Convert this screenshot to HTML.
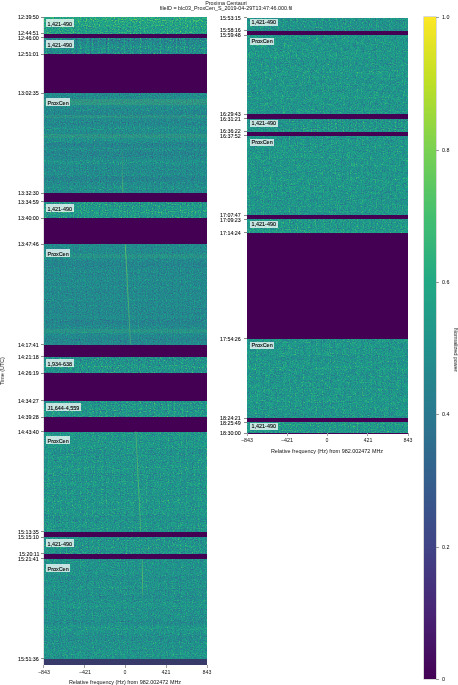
<!DOCTYPE html>
<html><head><meta charset="utf-8"><style>
html,body{margin:0;padding:0;background:#fff;width:458px;height:685px;overflow:hidden}
body{position:relative;font-family:"Liberation Sans",sans-serif;color:#000;-webkit-font-smoothing:antialiased}
div,svg{position:absolute}
div{will-change:transform}
.lab{font-size:5.45px;padding:0 1.5px 0 1.5px;-webkit-text-stroke:0.1px #000;background:rgba(255,255,255,0.74);white-space:nowrap}
.tk{width:3.1px;height:0.75px;background:#8a8a8a}
.yl{font-size:5.35px;line-height:0;white-space:nowrap;color:#000;-webkit-text-stroke:0.06px #000}
.xl{font-size:5.35px;white-space:nowrap;transform:translateX(-50%);color:#111}
.xt{width:0.7px;height:3px;background:#a0a0a0}
.t{font-size:5.4px;white-space:nowrap;transform:translateX(-50%);color:#111}
</style></head><body>
<svg width="0" height="0" style="position:absolute"><defs>
<filter id="f1" x="0" y="0" width="100%" height="100%" color-interpolation-filters="sRGB">
<feTurbulence type="fractalNoise" baseFrequency="0.85" numOctaves="2" seed="7" result="n0"/>
<feColorMatrix in="n0" values="1 0 0 0 0 0 0 0 0 0 0 0 0 0 0 0 0 0 0 1" result="n"/>
<feTurbulence type="fractalNoise" baseFrequency="0 0.12" numOctaves="2" seed="57" result="s0"/>
<feTurbulence type="fractalNoise" baseFrequency="0.5 0" numOctaves="1" seed="97" result="v0"/>
<feColorMatrix in="s0" values="0.1212 0 0 0 0 0 0 0 0 0 0 0 0 0 0 0 0 0 0 1" result="s"/>
<feColorMatrix in="v0" values="0.1412 0 0 0 0 0 0 0 0 0 0 0 0 0 0 0 0 0 0 1" result="v"/>
<feComposite in="n" in2="s" operator="arithmetic" k1="0" k2="0.6372" k3="1" k4="0.2008" result="ns"/>
<feComposite in="ns" in2="v" operator="arithmetic" k1="0" k2="1" k3="1" k4="-0.0706" result="nv"/>
<feColorMatrix in="nv" values="1 0 0 0 0 1 0 0 0 0 1 0 0 0 0 0 0 0 0 1"/>
<feComponentTransfer><feFuncR type="table" tableValues="0.267 0.277 0.282 0.283 0.279 0.271 0.259 0.245 0.23 0.214 0.199 0.186 0.173 0.161 0.149 0.138 0.128 0.121 0.121 0.132 0.158 0.197 0.246 0.304 0.369 0.44 0.516 0.596 0.678 0.762 0.846 0.926 0.993"/><feFuncG type="table" tableValues="0.005 0.05 0.095 0.136 0.175 0.214 0.252 0.288 0.322 0.356 0.388 0.419 0.449 0.479 0.508 0.537 0.567 0.596 0.626 0.655 0.684 0.712 0.739 0.765 0.789 0.811 0.831 0.849 0.864 0.876 0.887 0.897 0.906"/><feFuncB type="table" tableValues="0.329 0.376 0.417 0.453 0.483 0.507 0.525 0.537 0.546 0.551 0.555 0.557 0.558 0.558 0.557 0.555 0.551 0.544 0.533 0.52 0.502 0.479 0.452 0.42 0.383 0.341 0.294 0.243 0.19 0.137 0.1 0.104 0.144"/></feComponentTransfer>
</filter>
<filter id="f2" x="0" y="0" width="100%" height="100%" color-interpolation-filters="sRGB">
<feTurbulence type="fractalNoise" baseFrequency="0.85" numOctaves="2" seed="10" result="n0"/>
<feColorMatrix in="n0" values="1 0 0 0 0 0 0 0 0 0 0 0 0 0 0 0 0 0 0 1" result="n"/>
<feTurbulence type="fractalNoise" baseFrequency="0 0.12" numOctaves="2" seed="60" result="s0"/>
<feTurbulence type="fractalNoise" baseFrequency="0.5 0" numOctaves="1" seed="100" result="v0"/>
<feColorMatrix in="s0" values="0.1212 0 0 0 0 0 0 0 0 0 0 0 0 0 0 0 0 0 0 1" result="s"/>
<feColorMatrix in="v0" values="0.3529 0 0 0 0 0 0 0 0 0 0 0 0 0 0 0 0 0 0 1" result="v"/>
<feComposite in="n" in2="s" operator="arithmetic" k1="0" k2="0.5947" k3="1" k4="0.1370" result="ns"/>
<feComposite in="ns" in2="v" operator="arithmetic" k1="0" k2="1" k3="1" k4="-0.1765" result="nv"/>
<feColorMatrix in="nv" values="1 0 0 0 0 1 0 0 0 0 1 0 0 0 0 0 0 0 0 1"/>
<feComponentTransfer><feFuncR type="table" tableValues="0.267 0.277 0.282 0.283 0.279 0.271 0.259 0.245 0.23 0.214 0.199 0.186 0.173 0.161 0.149 0.138 0.128 0.121 0.121 0.132 0.158 0.197 0.246 0.304 0.369 0.44 0.516 0.596 0.678 0.762 0.846 0.926 0.993"/><feFuncG type="table" tableValues="0.005 0.05 0.095 0.136 0.175 0.214 0.252 0.288 0.322 0.356 0.388 0.419 0.449 0.479 0.508 0.537 0.567 0.596 0.626 0.655 0.684 0.712 0.739 0.765 0.789 0.811 0.831 0.849 0.864 0.876 0.887 0.897 0.906"/><feFuncB type="table" tableValues="0.329 0.376 0.417 0.453 0.483 0.507 0.525 0.537 0.546 0.551 0.555 0.557 0.558 0.558 0.557 0.555 0.551 0.544 0.533 0.52 0.502 0.479 0.452 0.42 0.383 0.341 0.294 0.243 0.19 0.137 0.1 0.104 0.144"/></feComponentTransfer>
</filter>
<filter id="f3" x="0" y="0" width="100%" height="100%" color-interpolation-filters="sRGB">
<feTurbulence type="fractalNoise" baseFrequency="0.85" numOctaves="2" seed="13" result="n0"/>
<feColorMatrix in="n0" values="1 0 0 0 0 0 0 0 0 0 0 0 0 0 0 0 0 0 0 1" result="n"/>
<feTurbulence type="fractalNoise" baseFrequency="0 0.12" numOctaves="2" seed="63" result="s0"/>
<feTurbulence type="fractalNoise" baseFrequency="0.5 0" numOctaves="1" seed="103" result="v0"/>
<feColorMatrix in="s0" values="0.1616 0 0 0 0 0 0 0 0 0 0 0 0 0 0 0 0 0 0 1" result="s"/>
<feColorMatrix in="v0" values="0.1176 0 0 0 0 0 0 0 0 0 0 0 0 0 0 0 0 0 0 1" result="v"/>
<feComposite in="n" in2="s" operator="arithmetic" k1="0" k2="0.4673" k3="1" k4="0.1605" result="ns"/>
<feComposite in="ns" in2="v" operator="arithmetic" k1="0" k2="1" k3="1" k4="-0.0588" result="nv"/>
<feColorMatrix in="nv" values="1 0 0 0 0 1 0 0 0 0 1 0 0 0 0 0 0 0 0 1"/>
<feComponentTransfer><feFuncR type="table" tableValues="0.267 0.277 0.282 0.283 0.279 0.271 0.259 0.245 0.23 0.214 0.199 0.186 0.173 0.161 0.149 0.138 0.128 0.121 0.121 0.132 0.158 0.197 0.246 0.304 0.369 0.44 0.516 0.596 0.678 0.762 0.846 0.926 0.993"/><feFuncG type="table" tableValues="0.005 0.05 0.095 0.136 0.175 0.214 0.252 0.288 0.322 0.356 0.388 0.419 0.449 0.479 0.508 0.537 0.567 0.596 0.626 0.655 0.684 0.712 0.739 0.765 0.789 0.811 0.831 0.849 0.864 0.876 0.887 0.897 0.906"/><feFuncB type="table" tableValues="0.329 0.376 0.417 0.453 0.483 0.507 0.525 0.537 0.546 0.551 0.555 0.557 0.558 0.558 0.557 0.555 0.551 0.544 0.533 0.52 0.502 0.479 0.452 0.42 0.383 0.341 0.294 0.243 0.19 0.137 0.1 0.104 0.144"/></feComponentTransfer>
</filter>
<filter id="f4" x="0" y="0" width="100%" height="100%" color-interpolation-filters="sRGB">
<feTurbulence type="fractalNoise" baseFrequency="0.85" numOctaves="2" seed="16" result="n0"/>
<feColorMatrix in="n0" values="1 0 0 0 0 0 0 0 0 0 0 0 0 0 0 0 0 0 0 1" result="n"/>
<feTurbulence type="fractalNoise" baseFrequency="0 0.12" numOctaves="2" seed="66" result="s0"/>
<feTurbulence type="fractalNoise" baseFrequency="0.5 0" numOctaves="1" seed="106" result="v0"/>
<feColorMatrix in="s0" values="0.1212 0 0 0 0 0 0 0 0 0 0 0 0 0 0 0 0 0 0 1" result="s"/>
<feColorMatrix in="v0" values="0.1765 0 0 0 0 0 0 0 0 0 0 0 0 0 0 0 0 0 0 1" result="v"/>
<feComposite in="n" in2="s" operator="arithmetic" k1="0" k2="0.5947" k3="1" k4="0.1820" result="ns"/>
<feComposite in="ns" in2="v" operator="arithmetic" k1="0" k2="1" k3="1" k4="-0.0882" result="nv"/>
<feColorMatrix in="nv" values="1 0 0 0 0 1 0 0 0 0 1 0 0 0 0 0 0 0 0 1"/>
<feComponentTransfer><feFuncR type="table" tableValues="0.267 0.277 0.282 0.283 0.279 0.271 0.259 0.245 0.23 0.214 0.199 0.186 0.173 0.161 0.149 0.138 0.128 0.121 0.121 0.132 0.158 0.197 0.246 0.304 0.369 0.44 0.516 0.596 0.678 0.762 0.846 0.926 0.993"/><feFuncG type="table" tableValues="0.005 0.05 0.095 0.136 0.175 0.214 0.252 0.288 0.322 0.356 0.388 0.419 0.449 0.479 0.508 0.537 0.567 0.596 0.626 0.655 0.684 0.712 0.739 0.765 0.789 0.811 0.831 0.849 0.864 0.876 0.887 0.897 0.906"/><feFuncB type="table" tableValues="0.329 0.376 0.417 0.453 0.483 0.507 0.525 0.537 0.546 0.551 0.555 0.557 0.558 0.558 0.557 0.555 0.551 0.544 0.533 0.52 0.502 0.479 0.452 0.42 0.383 0.341 0.294 0.243 0.19 0.137 0.1 0.104 0.144"/></feComponentTransfer>
</filter>
<filter id="f5" x="0" y="0" width="100%" height="100%" color-interpolation-filters="sRGB">
<feTurbulence type="fractalNoise" baseFrequency="0.85" numOctaves="2" seed="19" result="n0"/>
<feColorMatrix in="n0" values="1 0 0 0 0 0 0 0 0 0 0 0 0 0 0 0 0 0 0 1" result="n"/>
<feTurbulence type="fractalNoise" baseFrequency="0 0.12" numOctaves="2" seed="69" result="s0"/>
<feTurbulence type="fractalNoise" baseFrequency="0.5 0" numOctaves="1" seed="109" result="v0"/>
<feColorMatrix in="s0" values="0.1212 0 0 0 0 0 0 0 0 0 0 0 0 0 0 0 0 0 0 1" result="s"/>
<feColorMatrix in="v0" values="0.1176 0 0 0 0 0 0 0 0 0 0 0 0 0 0 0 0 0 0 1" result="v"/>
<feComposite in="n" in2="s" operator="arithmetic" k1="0" k2="0.4248" k3="1" k4="0.1970" result="ns"/>
<feComposite in="ns" in2="v" operator="arithmetic" k1="0" k2="1" k3="1" k4="-0.0588" result="nv"/>
<feColorMatrix in="nv" values="1 0 0 0 0 1 0 0 0 0 1 0 0 0 0 0 0 0 0 1"/>
<feComponentTransfer><feFuncR type="table" tableValues="0.267 0.277 0.282 0.283 0.279 0.271 0.259 0.245 0.23 0.214 0.199 0.186 0.173 0.161 0.149 0.138 0.128 0.121 0.121 0.132 0.158 0.197 0.246 0.304 0.369 0.44 0.516 0.596 0.678 0.762 0.846 0.926 0.993"/><feFuncG type="table" tableValues="0.005 0.05 0.095 0.136 0.175 0.214 0.252 0.288 0.322 0.356 0.388 0.419 0.449 0.479 0.508 0.537 0.567 0.596 0.626 0.655 0.684 0.712 0.739 0.765 0.789 0.811 0.831 0.849 0.864 0.876 0.887 0.897 0.906"/><feFuncB type="table" tableValues="0.329 0.376 0.417 0.453 0.483 0.507 0.525 0.537 0.546 0.551 0.555 0.557 0.558 0.558 0.557 0.555 0.551 0.544 0.533 0.52 0.502 0.479 0.452 0.42 0.383 0.341 0.294 0.243 0.19 0.137 0.1 0.104 0.144"/></feComponentTransfer>
</filter>
<filter id="f6" x="0" y="0" width="100%" height="100%" color-interpolation-filters="sRGB">
<feTurbulence type="fractalNoise" baseFrequency="0.85" numOctaves="2" seed="22" result="n0"/>
<feColorMatrix in="n0" values="1 0 0 0 0 0 0 0 0 0 0 0 0 0 0 0 0 0 0 1" result="n"/>
<feTurbulence type="fractalNoise" baseFrequency="0 0.12" numOctaves="2" seed="72" result="s0"/>
<feTurbulence type="fractalNoise" baseFrequency="0.5 0" numOctaves="1" seed="112" result="v0"/>
<feColorMatrix in="s0" values="0.1212 0 0 0 0 0 0 0 0 0 0 0 0 0 0 0 0 0 0 1" result="s"/>
<feColorMatrix in="v0" values="0.1765 0 0 0 0 0 0 0 0 0 0 0 0 0 0 0 0 0 0 1" result="v"/>
<feComposite in="n" in2="s" operator="arithmetic" k1="0" k2="0.5947" k3="1" k4="0.1620" result="ns"/>
<feComposite in="ns" in2="v" operator="arithmetic" k1="0" k2="1" k3="1" k4="-0.0882" result="nv"/>
<feColorMatrix in="nv" values="1 0 0 0 0 1 0 0 0 0 1 0 0 0 0 0 0 0 0 1"/>
<feComponentTransfer><feFuncR type="table" tableValues="0.267 0.277 0.282 0.283 0.279 0.271 0.259 0.245 0.23 0.214 0.199 0.186 0.173 0.161 0.149 0.138 0.128 0.121 0.121 0.132 0.158 0.197 0.246 0.304 0.369 0.44 0.516 0.596 0.678 0.762 0.846 0.926 0.993"/><feFuncG type="table" tableValues="0.005 0.05 0.095 0.136 0.175 0.214 0.252 0.288 0.322 0.356 0.388 0.419 0.449 0.479 0.508 0.537 0.567 0.596 0.626 0.655 0.684 0.712 0.739 0.765 0.789 0.811 0.831 0.849 0.864 0.876 0.887 0.897 0.906"/><feFuncB type="table" tableValues="0.329 0.376 0.417 0.453 0.483 0.507 0.525 0.537 0.546 0.551 0.555 0.557 0.558 0.558 0.557 0.555 0.551 0.544 0.533 0.52 0.502 0.479 0.452 0.42 0.383 0.341 0.294 0.243 0.19 0.137 0.1 0.104 0.144"/></feComponentTransfer>
</filter>
<filter id="f7" x="0" y="0" width="100%" height="100%" color-interpolation-filters="sRGB">
<feTurbulence type="fractalNoise" baseFrequency="0.85" numOctaves="2" seed="25" result="n0"/>
<feColorMatrix in="n0" values="1 0 0 0 0 0 0 0 0 0 0 0 0 0 0 0 0 0 0 1" result="n"/>
<feTurbulence type="fractalNoise" baseFrequency="0 0.12" numOctaves="2" seed="75" result="s0"/>
<feTurbulence type="fractalNoise" baseFrequency="0.5 0" numOctaves="1" seed="115" result="v0"/>
<feColorMatrix in="s0" values="0.1212 0 0 0 0 0 0 0 0 0 0 0 0 0 0 0 0 0 0 1" result="s"/>
<feColorMatrix in="v0" values="0.1765 0 0 0 0 0 0 0 0 0 0 0 0 0 0 0 0 0 0 1" result="v"/>
<feComposite in="n" in2="s" operator="arithmetic" k1="0" k2="0.5947" k3="1" k4="0.1670" result="ns"/>
<feComposite in="ns" in2="v" operator="arithmetic" k1="0" k2="1" k3="1" k4="-0.0882" result="nv"/>
<feColorMatrix in="nv" values="1 0 0 0 0 1 0 0 0 0 1 0 0 0 0 0 0 0 0 1"/>
<feComponentTransfer><feFuncR type="table" tableValues="0.267 0.277 0.282 0.283 0.279 0.271 0.259 0.245 0.23 0.214 0.199 0.186 0.173 0.161 0.149 0.138 0.128 0.121 0.121 0.132 0.158 0.197 0.246 0.304 0.369 0.44 0.516 0.596 0.678 0.762 0.846 0.926 0.993"/><feFuncG type="table" tableValues="0.005 0.05 0.095 0.136 0.175 0.214 0.252 0.288 0.322 0.356 0.388 0.419 0.449 0.479 0.508 0.537 0.567 0.596 0.626 0.655 0.684 0.712 0.739 0.765 0.789 0.811 0.831 0.849 0.864 0.876 0.887 0.897 0.906"/><feFuncB type="table" tableValues="0.329 0.376 0.417 0.453 0.483 0.507 0.525 0.537 0.546 0.551 0.555 0.557 0.558 0.558 0.557 0.555 0.551 0.544 0.533 0.52 0.502 0.479 0.452 0.42 0.383 0.341 0.294 0.243 0.19 0.137 0.1 0.104 0.144"/></feComponentTransfer>
</filter>
<filter id="f8" x="0" y="0" width="100%" height="100%" color-interpolation-filters="sRGB">
<feTurbulence type="fractalNoise" baseFrequency="0.85" numOctaves="2" seed="28" result="n0"/>
<feColorMatrix in="n0" values="1 0 0 0 0 0 0 0 0 0 0 0 0 0 0 0 0 0 0 1" result="n"/>
<feTurbulence type="fractalNoise" baseFrequency="0 0.12" numOctaves="2" seed="78" result="s0"/>
<feTurbulence type="fractalNoise" baseFrequency="0.5 0" numOctaves="1" seed="118" result="v0"/>
<feColorMatrix in="s0" values="0.0808 0 0 0 0 0 0 0 0 0 0 0 0 0 0 0 0 0 0 1" result="s"/>
<feColorMatrix in="v0" values="0.1412 0 0 0 0 0 0 0 0 0 0 0 0 0 0 0 0 0 0 1" result="v"/>
<feComposite in="n" in2="s" operator="arithmetic" k1="0" k2="0.4673" k3="1" k4="0.2460" result="ns"/>
<feComposite in="ns" in2="v" operator="arithmetic" k1="0" k2="1" k3="1" k4="-0.0706" result="nv"/>
<feTurbulence type="fractalNoise" baseFrequency="0.22" numOctaves="2" seed="158" result="m0"/>
<feColorMatrix in="m0" values="0.1000 0 0 0 0 0 0 0 0 0 0 0 0 0 0 0 0 0 0 1" result="mm"/>
<feComposite in="nv" in2="mm" operator="arithmetic" k1="0" k2="1" k3="1" k4="-0.0500" result="nm"/>
<feColorMatrix in="nm" values="1 0 0 0 0 1 0 0 0 0 1 0 0 0 0 0 0 0 0 1"/>
<feComponentTransfer><feFuncR type="table" tableValues="0.267 0.277 0.282 0.283 0.279 0.271 0.259 0.245 0.23 0.214 0.199 0.186 0.173 0.161 0.149 0.138 0.128 0.121 0.121 0.132 0.158 0.197 0.246 0.304 0.369 0.44 0.516 0.596 0.678 0.762 0.846 0.926 0.993"/><feFuncG type="table" tableValues="0.005 0.05 0.095 0.136 0.175 0.214 0.252 0.288 0.322 0.356 0.388 0.419 0.449 0.479 0.508 0.537 0.567 0.596 0.626 0.655 0.684 0.712 0.739 0.765 0.789 0.811 0.831 0.849 0.864 0.876 0.887 0.897 0.906"/><feFuncB type="table" tableValues="0.329 0.376 0.417 0.453 0.483 0.507 0.525 0.537 0.546 0.551 0.555 0.557 0.558 0.558 0.557 0.555 0.551 0.544 0.533 0.52 0.502 0.479 0.452 0.42 0.383 0.341 0.294 0.243 0.19 0.137 0.1 0.104 0.144"/></feComponentTransfer>
</filter>
<filter id="f9" x="0" y="0" width="100%" height="100%" color-interpolation-filters="sRGB">
<feTurbulence type="fractalNoise" baseFrequency="0.85" numOctaves="2" seed="31" result="n0"/>
<feColorMatrix in="n0" values="1 0 0 0 0 0 0 0 0 0 0 0 0 0 0 0 0 0 0 1" result="n"/>
<feTurbulence type="fractalNoise" baseFrequency="0 0.12" numOctaves="2" seed="81" result="s0"/>
<feTurbulence type="fractalNoise" baseFrequency="0.5 0" numOctaves="1" seed="121" result="v0"/>
<feColorMatrix in="s0" values="0.1212 0 0 0 0 0 0 0 0 0 0 0 0 0 0 0 0 0 0 1" result="s"/>
<feColorMatrix in="v0" values="0.1765 0 0 0 0 0 0 0 0 0 0 0 0 0 0 0 0 0 0 1" result="v"/>
<feComposite in="n" in2="s" operator="arithmetic" k1="0" k2="0.5947" k3="1" k4="0.1620" result="ns"/>
<feComposite in="ns" in2="v" operator="arithmetic" k1="0" k2="1" k3="1" k4="-0.0882" result="nv"/>
<feColorMatrix in="nv" values="1 0 0 0 0 1 0 0 0 0 1 0 0 0 0 0 0 0 0 1"/>
<feComponentTransfer><feFuncR type="table" tableValues="0.267 0.277 0.282 0.283 0.279 0.271 0.259 0.245 0.23 0.214 0.199 0.186 0.173 0.161 0.149 0.138 0.128 0.121 0.121 0.132 0.158 0.197 0.246 0.304 0.369 0.44 0.516 0.596 0.678 0.762 0.846 0.926 0.993"/><feFuncG type="table" tableValues="0.005 0.05 0.095 0.136 0.175 0.214 0.252 0.288 0.322 0.356 0.388 0.419 0.449 0.479 0.508 0.537 0.567 0.596 0.626 0.655 0.684 0.712 0.739 0.765 0.789 0.811 0.831 0.849 0.864 0.876 0.887 0.897 0.906"/><feFuncB type="table" tableValues="0.329 0.376 0.417 0.453 0.483 0.507 0.525 0.537 0.546 0.551 0.555 0.557 0.558 0.558 0.557 0.555 0.551 0.544 0.533 0.52 0.502 0.479 0.452 0.42 0.383 0.341 0.294 0.243 0.19 0.137 0.1 0.104 0.144"/></feComponentTransfer>
</filter>
<filter id="f10" x="0" y="0" width="100%" height="100%" color-interpolation-filters="sRGB">
<feTurbulence type="fractalNoise" baseFrequency="0.85" numOctaves="2" seed="34" result="n0"/>
<feColorMatrix in="n0" values="1 0 0 0 0 0 0 0 0 0 0 0 0 0 0 0 0 0 0 1" result="n"/>
<feTurbulence type="fractalNoise" baseFrequency="0 0.12" numOctaves="2" seed="84" result="s0"/>
<feTurbulence type="fractalNoise" baseFrequency="0.5 0" numOctaves="1" seed="124" result="v0"/>
<feColorMatrix in="s0" values="0.0808 0 0 0 0 0 0 0 0 0 0 0 0 0 0 0 0 0 0 1" result="s"/>
<feColorMatrix in="v0" values="0.1176 0 0 0 0 0 0 0 0 0 0 0 0 0 0 0 0 0 0 1" result="v"/>
<feComposite in="n" in2="s" operator="arithmetic" k1="0" k2="0.4418" k3="1" k4="0.2437" result="ns"/>
<feComposite in="ns" in2="v" operator="arithmetic" k1="0" k2="1" k3="1" k4="-0.0588" result="nv"/>
<feTurbulence type="fractalNoise" baseFrequency="0.22" numOctaves="2" seed="164" result="m0"/>
<feColorMatrix in="m0" values="0.1000 0 0 0 0 0 0 0 0 0 0 0 0 0 0 0 0 0 0 1" result="mm"/>
<feComposite in="nv" in2="mm" operator="arithmetic" k1="0" k2="1" k3="1" k4="-0.0500" result="nm"/>
<feColorMatrix in="nm" values="1 0 0 0 0 1 0 0 0 0 1 0 0 0 0 0 0 0 0 1"/>
<feComponentTransfer><feFuncR type="table" tableValues="0.267 0.277 0.282 0.283 0.279 0.271 0.259 0.245 0.23 0.214 0.199 0.186 0.173 0.161 0.149 0.138 0.128 0.121 0.121 0.132 0.158 0.197 0.246 0.304 0.369 0.44 0.516 0.596 0.678 0.762 0.846 0.926 0.993"/><feFuncG type="table" tableValues="0.005 0.05 0.095 0.136 0.175 0.214 0.252 0.288 0.322 0.356 0.388 0.419 0.449 0.479 0.508 0.537 0.567 0.596 0.626 0.655 0.684 0.712 0.739 0.765 0.789 0.811 0.831 0.849 0.864 0.876 0.887 0.897 0.906"/><feFuncB type="table" tableValues="0.329 0.376 0.417 0.453 0.483 0.507 0.525 0.537 0.546 0.551 0.555 0.557 0.558 0.558 0.557 0.555 0.551 0.544 0.533 0.52 0.502 0.479 0.452 0.42 0.383 0.341 0.294 0.243 0.19 0.137 0.1 0.104 0.144"/></feComponentTransfer>
</filter>
<filter id="f11" x="0" y="0" width="100%" height="100%" color-interpolation-filters="sRGB">
<feTurbulence type="fractalNoise" baseFrequency="0.85" numOctaves="2" seed="207" result="n0"/>
<feColorMatrix in="n0" values="1 0 0 0 0 0 0 0 0 0 0 0 0 0 0 0 0 0 0 1" result="n"/>
<feTurbulence type="fractalNoise" baseFrequency="0 0.12" numOctaves="2" seed="257" result="s0"/>
<feTurbulence type="fractalNoise" baseFrequency="0.5 0" numOctaves="1" seed="297" result="v0"/>
<feColorMatrix in="s0" values="0.1212 0 0 0 0 0 0 0 0 0 0 0 0 0 0 0 0 0 0 1" result="s"/>
<feColorMatrix in="v0" values="0.1765 0 0 0 0 0 0 0 0 0 0 0 0 0 0 0 0 0 0 1" result="v"/>
<feComposite in="n" in2="s" operator="arithmetic" k1="0" k2="0.5523" k3="1" k4="0.1833" result="ns"/>
<feComposite in="ns" in2="v" operator="arithmetic" k1="0" k2="1" k3="1" k4="-0.0882" result="nv"/>
<feColorMatrix in="nv" values="1 0 0 0 0 1 0 0 0 0 1 0 0 0 0 0 0 0 0 1"/>
<feComponentTransfer><feFuncR type="table" tableValues="0.267 0.277 0.282 0.283 0.279 0.271 0.259 0.245 0.23 0.214 0.199 0.186 0.173 0.161 0.149 0.138 0.128 0.121 0.121 0.132 0.158 0.197 0.246 0.304 0.369 0.44 0.516 0.596 0.678 0.762 0.846 0.926 0.993"/><feFuncG type="table" tableValues="0.005 0.05 0.095 0.136 0.175 0.214 0.252 0.288 0.322 0.356 0.388 0.419 0.449 0.479 0.508 0.537 0.567 0.596 0.626 0.655 0.684 0.712 0.739 0.765 0.789 0.811 0.831 0.849 0.864 0.876 0.887 0.897 0.906"/><feFuncB type="table" tableValues="0.329 0.376 0.417 0.453 0.483 0.507 0.525 0.537 0.546 0.551 0.555 0.557 0.558 0.558 0.557 0.555 0.551 0.544 0.533 0.52 0.502 0.479 0.452 0.42 0.383 0.341 0.294 0.243 0.19 0.137 0.1 0.104 0.144"/></feComponentTransfer>
</filter>
<filter id="f12" x="0" y="0" width="100%" height="100%" color-interpolation-filters="sRGB">
<feTurbulence type="fractalNoise" baseFrequency="0.85" numOctaves="2" seed="210" result="n0"/>
<feColorMatrix in="n0" values="1 0 0 0 0 0 0 0 0 0 0 0 0 0 0 0 0 0 0 1" result="n"/>
<feTurbulence type="fractalNoise" baseFrequency="0 0.12" numOctaves="2" seed="260" result="s0"/>
<feTurbulence type="fractalNoise" baseFrequency="0.5 0" numOctaves="1" seed="300" result="v0"/>
<feColorMatrix in="s0" values="0.0505 0 0 0 0 0 0 0 0 0 0 0 0 0 0 0 0 0 0 1" result="s"/>
<feColorMatrix in="v0" values="0.0941 0 0 0 0 0 0 0 0 0 0 0 0 0 0 0 0 0 0 1" result="v"/>
<feComposite in="n" in2="s" operator="arithmetic" k1="0" k2="0.4673" k3="1" k4="0.2661" result="ns"/>
<feComposite in="ns" in2="v" operator="arithmetic" k1="0" k2="1" k3="1" k4="-0.0471" result="nv"/>
<feTurbulence type="fractalNoise" baseFrequency="0.22" numOctaves="2" seed="340" result="m0"/>
<feColorMatrix in="m0" values="0.1400 0 0 0 0 0 0 0 0 0 0 0 0 0 0 0 0 0 0 1" result="mm"/>
<feComposite in="nv" in2="mm" operator="arithmetic" k1="0" k2="1" k3="1" k4="-0.0700" result="nm"/>
<feColorMatrix in="nm" values="1 0 0 0 0 1 0 0 0 0 1 0 0 0 0 0 0 0 0 1"/>
<feComponentTransfer><feFuncR type="table" tableValues="0.267 0.277 0.282 0.283 0.279 0.271 0.259 0.245 0.23 0.214 0.199 0.186 0.173 0.161 0.149 0.138 0.128 0.121 0.121 0.132 0.158 0.197 0.246 0.304 0.369 0.44 0.516 0.596 0.678 0.762 0.846 0.926 0.993"/><feFuncG type="table" tableValues="0.005 0.05 0.095 0.136 0.175 0.214 0.252 0.288 0.322 0.356 0.388 0.419 0.449 0.479 0.508 0.537 0.567 0.596 0.626 0.655 0.684 0.712 0.739 0.765 0.789 0.811 0.831 0.849 0.864 0.876 0.887 0.897 0.906"/><feFuncB type="table" tableValues="0.329 0.376 0.417 0.453 0.483 0.507 0.525 0.537 0.546 0.551 0.555 0.557 0.558 0.558 0.557 0.555 0.551 0.544 0.533 0.52 0.502 0.479 0.452 0.42 0.383 0.341 0.294 0.243 0.19 0.137 0.1 0.104 0.144"/></feComponentTransfer>
</filter>
<filter id="f13" x="0" y="0" width="100%" height="100%" color-interpolation-filters="sRGB">
<feTurbulence type="fractalNoise" baseFrequency="0.85" numOctaves="2" seed="213" result="n0"/>
<feColorMatrix in="n0" values="1 0 0 0 0 0 0 0 0 0 0 0 0 0 0 0 0 0 0 1" result="n"/>
<feTurbulence type="fractalNoise" baseFrequency="0 0.12" numOctaves="2" seed="263" result="s0"/>
<feTurbulence type="fractalNoise" baseFrequency="0.5 0" numOctaves="1" seed="303" result="v0"/>
<feColorMatrix in="s0" values="0.1212 0 0 0 0 0 0 0 0 0 0 0 0 0 0 0 0 0 0 1" result="s"/>
<feColorMatrix in="v0" values="0.1765 0 0 0 0 0 0 0 0 0 0 0 0 0 0 0 0 0 0 1" result="v"/>
<feComposite in="n" in2="s" operator="arithmetic" k1="0" k2="0.5523" k3="1" k4="0.1833" result="ns"/>
<feComposite in="ns" in2="v" operator="arithmetic" k1="0" k2="1" k3="1" k4="-0.0882" result="nv"/>
<feColorMatrix in="nv" values="1 0 0 0 0 1 0 0 0 0 1 0 0 0 0 0 0 0 0 1"/>
<feComponentTransfer><feFuncR type="table" tableValues="0.267 0.277 0.282 0.283 0.279 0.271 0.259 0.245 0.23 0.214 0.199 0.186 0.173 0.161 0.149 0.138 0.128 0.121 0.121 0.132 0.158 0.197 0.246 0.304 0.369 0.44 0.516 0.596 0.678 0.762 0.846 0.926 0.993"/><feFuncG type="table" tableValues="0.005 0.05 0.095 0.136 0.175 0.214 0.252 0.288 0.322 0.356 0.388 0.419 0.449 0.479 0.508 0.537 0.567 0.596 0.626 0.655 0.684 0.712 0.739 0.765 0.789 0.811 0.831 0.849 0.864 0.876 0.887 0.897 0.906"/><feFuncB type="table" tableValues="0.329 0.376 0.417 0.453 0.483 0.507 0.525 0.537 0.546 0.551 0.555 0.557 0.558 0.558 0.557 0.555 0.551 0.544 0.533 0.52 0.502 0.479 0.452 0.42 0.383 0.341 0.294 0.243 0.19 0.137 0.1 0.104 0.144"/></feComponentTransfer>
</filter>
<filter id="f14" x="0" y="0" width="100%" height="100%" color-interpolation-filters="sRGB">
<feTurbulence type="fractalNoise" baseFrequency="0.85" numOctaves="2" seed="216" result="n0"/>
<feColorMatrix in="n0" values="1 0 0 0 0 0 0 0 0 0 0 0 0 0 0 0 0 0 0 1" result="n"/>
<feTurbulence type="fractalNoise" baseFrequency="0 0.12" numOctaves="2" seed="266" result="s0"/>
<feTurbulence type="fractalNoise" baseFrequency="0.5 0" numOctaves="1" seed="306" result="v0"/>
<feColorMatrix in="s0" values="0.0505 0 0 0 0 0 0 0 0 0 0 0 0 0 0 0 0 0 0 1" result="s"/>
<feColorMatrix in="v0" values="0.0941 0 0 0 0 0 0 0 0 0 0 0 0 0 0 0 0 0 0 1" result="v"/>
<feComposite in="n" in2="s" operator="arithmetic" k1="0" k2="0.4673" k3="1" k4="0.2661" result="ns"/>
<feComposite in="ns" in2="v" operator="arithmetic" k1="0" k2="1" k3="1" k4="-0.0471" result="nv"/>
<feTurbulence type="fractalNoise" baseFrequency="0.22" numOctaves="2" seed="346" result="m0"/>
<feColorMatrix in="m0" values="0.1400 0 0 0 0 0 0 0 0 0 0 0 0 0 0 0 0 0 0 1" result="mm"/>
<feComposite in="nv" in2="mm" operator="arithmetic" k1="0" k2="1" k3="1" k4="-0.0700" result="nm"/>
<feColorMatrix in="nm" values="1 0 0 0 0 1 0 0 0 0 1 0 0 0 0 0 0 0 0 1"/>
<feComponentTransfer><feFuncR type="table" tableValues="0.267 0.277 0.282 0.283 0.279 0.271 0.259 0.245 0.23 0.214 0.199 0.186 0.173 0.161 0.149 0.138 0.128 0.121 0.121 0.132 0.158 0.197 0.246 0.304 0.369 0.44 0.516 0.596 0.678 0.762 0.846 0.926 0.993"/><feFuncG type="table" tableValues="0.005 0.05 0.095 0.136 0.175 0.214 0.252 0.288 0.322 0.356 0.388 0.419 0.449 0.479 0.508 0.537 0.567 0.596 0.626 0.655 0.684 0.712 0.739 0.765 0.789 0.811 0.831 0.849 0.864 0.876 0.887 0.897 0.906"/><feFuncB type="table" tableValues="0.329 0.376 0.417 0.453 0.483 0.507 0.525 0.537 0.546 0.551 0.555 0.557 0.558 0.558 0.557 0.555 0.551 0.544 0.533 0.52 0.502 0.479 0.452 0.42 0.383 0.341 0.294 0.243 0.19 0.137 0.1 0.104 0.144"/></feComponentTransfer>
</filter>
<filter id="f15" x="0" y="0" width="100%" height="100%" color-interpolation-filters="sRGB">
<feTurbulence type="fractalNoise" baseFrequency="0.85" numOctaves="2" seed="219" result="n0"/>
<feColorMatrix in="n0" values="1 0 0 0 0 0 0 0 0 0 0 0 0 0 0 0 0 0 0 1" result="n"/>
<feTurbulence type="fractalNoise" baseFrequency="0 0.12" numOctaves="2" seed="269" result="s0"/>
<feTurbulence type="fractalNoise" baseFrequency="0.5 0" numOctaves="1" seed="309" result="v0"/>
<feColorMatrix in="s0" values="0.1212 0 0 0 0 0 0 0 0 0 0 0 0 0 0 0 0 0 0 1" result="s"/>
<feColorMatrix in="v0" values="0.1765 0 0 0 0 0 0 0 0 0 0 0 0 0 0 0 0 0 0 1" result="v"/>
<feComposite in="n" in2="s" operator="arithmetic" k1="0" k2="0.5523" k3="1" k4="0.1933" result="ns"/>
<feComposite in="ns" in2="v" operator="arithmetic" k1="0" k2="1" k3="1" k4="-0.0882" result="nv"/>
<feColorMatrix in="nv" values="1 0 0 0 0 1 0 0 0 0 1 0 0 0 0 0 0 0 0 1"/>
<feComponentTransfer><feFuncR type="table" tableValues="0.267 0.277 0.282 0.283 0.279 0.271 0.259 0.245 0.23 0.214 0.199 0.186 0.173 0.161 0.149 0.138 0.128 0.121 0.121 0.132 0.158 0.197 0.246 0.304 0.369 0.44 0.516 0.596 0.678 0.762 0.846 0.926 0.993"/><feFuncG type="table" tableValues="0.005 0.05 0.095 0.136 0.175 0.214 0.252 0.288 0.322 0.356 0.388 0.419 0.449 0.479 0.508 0.537 0.567 0.596 0.626 0.655 0.684 0.712 0.739 0.765 0.789 0.811 0.831 0.849 0.864 0.876 0.887 0.897 0.906"/><feFuncB type="table" tableValues="0.329 0.376 0.417 0.453 0.483 0.507 0.525 0.537 0.546 0.551 0.555 0.557 0.558 0.558 0.557 0.555 0.551 0.544 0.533 0.52 0.502 0.479 0.452 0.42 0.383 0.341 0.294 0.243 0.19 0.137 0.1 0.104 0.144"/></feComponentTransfer>
</filter>
<filter id="f16" x="0" y="0" width="100%" height="100%" color-interpolation-filters="sRGB">
<feTurbulence type="fractalNoise" baseFrequency="0.85" numOctaves="2" seed="222" result="n0"/>
<feColorMatrix in="n0" values="1 0 0 0 0 0 0 0 0 0 0 0 0 0 0 0 0 0 0 1" result="n"/>
<feTurbulence type="fractalNoise" baseFrequency="0 0.12" numOctaves="2" seed="272" result="s0"/>
<feTurbulence type="fractalNoise" baseFrequency="0.5 0" numOctaves="1" seed="312" result="v0"/>
<feColorMatrix in="s0" values="0.0505 0 0 0 0 0 0 0 0 0 0 0 0 0 0 0 0 0 0 1" result="s"/>
<feColorMatrix in="v0" values="0.0941 0 0 0 0 0 0 0 0 0 0 0 0 0 0 0 0 0 0 1" result="v"/>
<feComposite in="n" in2="s" operator="arithmetic" k1="0" k2="0.4673" k3="1" k4="0.2661" result="ns"/>
<feComposite in="ns" in2="v" operator="arithmetic" k1="0" k2="1" k3="1" k4="-0.0471" result="nv"/>
<feTurbulence type="fractalNoise" baseFrequency="0.22" numOctaves="2" seed="352" result="m0"/>
<feColorMatrix in="m0" values="0.1400 0 0 0 0 0 0 0 0 0 0 0 0 0 0 0 0 0 0 1" result="mm"/>
<feComposite in="nv" in2="mm" operator="arithmetic" k1="0" k2="1" k3="1" k4="-0.0700" result="nm"/>
<feColorMatrix in="nm" values="1 0 0 0 0 1 0 0 0 0 1 0 0 0 0 0 0 0 0 1"/>
<feComponentTransfer><feFuncR type="table" tableValues="0.267 0.277 0.282 0.283 0.279 0.271 0.259 0.245 0.23 0.214 0.199 0.186 0.173 0.161 0.149 0.138 0.128 0.121 0.121 0.132 0.158 0.197 0.246 0.304 0.369 0.44 0.516 0.596 0.678 0.762 0.846 0.926 0.993"/><feFuncG type="table" tableValues="0.005 0.05 0.095 0.136 0.175 0.214 0.252 0.288 0.322 0.356 0.388 0.419 0.449 0.479 0.508 0.537 0.567 0.596 0.626 0.655 0.684 0.712 0.739 0.765 0.789 0.811 0.831 0.849 0.864 0.876 0.887 0.897 0.906"/><feFuncB type="table" tableValues="0.329 0.376 0.417 0.453 0.483 0.507 0.525 0.537 0.546 0.551 0.555 0.557 0.558 0.558 0.557 0.555 0.551 0.544 0.533 0.52 0.502 0.479 0.452 0.42 0.383 0.341 0.294 0.243 0.19 0.137 0.1 0.104 0.144"/></feComponentTransfer>
</filter>
<filter id="f17" x="0" y="0" width="100%" height="100%" color-interpolation-filters="sRGB">
<feTurbulence type="fractalNoise" baseFrequency="0.85" numOctaves="2" seed="225" result="n0"/>
<feColorMatrix in="n0" values="1 0 0 0 0 0 0 0 0 0 0 0 0 0 0 0 0 0 0 1" result="n"/>
<feTurbulence type="fractalNoise" baseFrequency="0 0.12" numOctaves="2" seed="275" result="s0"/>
<feTurbulence type="fractalNoise" baseFrequency="0.5 0" numOctaves="1" seed="315" result="v0"/>
<feColorMatrix in="s0" values="0.1212 0 0 0 0 0 0 0 0 0 0 0 0 0 0 0 0 0 0 1" result="s"/>
<feColorMatrix in="v0" values="0.1765 0 0 0 0 0 0 0 0 0 0 0 0 0 0 0 0 0 0 1" result="v"/>
<feComposite in="n" in2="s" operator="arithmetic" k1="0" k2="0.5523" k3="1" k4="0.1933" result="ns"/>
<feComposite in="ns" in2="v" operator="arithmetic" k1="0" k2="1" k3="1" k4="-0.0882" result="nv"/>
<feColorMatrix in="nv" values="1 0 0 0 0 1 0 0 0 0 1 0 0 0 0 0 0 0 0 1"/>
<feComponentTransfer><feFuncR type="table" tableValues="0.267 0.277 0.282 0.283 0.279 0.271 0.259 0.245 0.23 0.214 0.199 0.186 0.173 0.161 0.149 0.138 0.128 0.121 0.121 0.132 0.158 0.197 0.246 0.304 0.369 0.44 0.516 0.596 0.678 0.762 0.846 0.926 0.993"/><feFuncG type="table" tableValues="0.005 0.05 0.095 0.136 0.175 0.214 0.252 0.288 0.322 0.356 0.388 0.419 0.449 0.479 0.508 0.537 0.567 0.596 0.626 0.655 0.684 0.712 0.739 0.765 0.789 0.811 0.831 0.849 0.864 0.876 0.887 0.897 0.906"/><feFuncB type="table" tableValues="0.329 0.376 0.417 0.453 0.483 0.507 0.525 0.537 0.546 0.551 0.555 0.557 0.558 0.558 0.557 0.555 0.551 0.544 0.533 0.52 0.502 0.479 0.452 0.42 0.383 0.341 0.294 0.243 0.19 0.137 0.1 0.104 0.144"/></feComponentTransfer>
</filter>
</defs></svg>
<div class="t" style="left:226px;top:-0.2px;line-height:6px">Proxima Centauri</div>
<div class="t" style="left:225.8px;top:5.2px;line-height:6px">fileID = blc03_ProxCen_S_2019-04-29T13:47:46.000.fil</div>
<div style="left:43.70px;top:17.05px;width:163.20px;height:647.55px;background:#440154"></div>
<div style="left:43.70px;top:658px;width:163.20px;height:6.6px;background:#383a69"></div>
<svg style="left:43.70px;top:17.05px;background:#20a386" width="163.20" height="16.79"><rect width="100%" height="100%" fill="#20a386" filter="url(#f1)"/></svg>
<div class="lab" style="left:46.40px;top:19.45px;height:8.0px;line-height:10.0px">1,421-490</div>
<svg style="left:43.70px;top:37.69px;background:#218f8d" width="163.20" height="16.79"><rect width="100%" height="100%" fill="#218f8d" filter="url(#f2)"/></svg>
<div class="lab" style="left:46.40px;top:40.09px;height:8.0px;line-height:10.0px">1,421-490</div>
<svg style="left:43.70px;top:93.19px;background:#238a8d" width="163.20" height="100.13"><rect width="100%" height="100%" fill="#238a8d" filter="url(#f3)"/></svg>
<div style="left:43.70px;top:98.50px;width:163.20px;height:6.30px;background:rgba(110,205,90,0.16)"></div>
<div style="left:43.70px;top:114.80px;width:163.20px;height:3.40px;background:rgba(110,205,90,0.1)"></div>
<div style="left:43.70px;top:134.20px;width:163.20px;height:4.20px;background:rgba(110,205,90,0.13)"></div>
<div class="lab" style="left:46.40px;top:97.99px;height:8.0px;line-height:10.0px">ProxCen</div>
<svg style="left:43.70px;top:201.63px;background:#1f9a8a" width="163.20" height="16.79"><rect width="100%" height="100%" fill="#1f9a8a" filter="url(#f4)"/></svg>
<div class="lab" style="left:46.40px;top:204.03px;height:8.0px;line-height:10.0px">1,421-490</div>
<svg style="left:43.70px;top:244.41px;background:#23898e" width="163.20" height="100.13"><rect width="100%" height="100%" fill="#23898e" filter="url(#f5)"/></svg>
<div style="left:43.70px;top:254.00px;width:163.20px;height:3.50px;background:rgba(110,205,90,0.08)"></div>
<div style="left:43.70px;top:329.00px;width:163.20px;height:4.00px;background:rgba(110,205,90,0.09)"></div>
<div class="lab" style="left:46.40px;top:249.21px;height:8.0px;line-height:10.0px">ProxCen</div>
<svg style="left:43.70px;top:356.64px;background:#1f958b" width="163.20" height="16.79"><rect width="100%" height="100%" fill="#1f958b" filter="url(#f6)"/></svg>
<div class="lab" style="left:46.40px;top:359.04px;height:8.0px;line-height:10.0px">1,934-638</div>
<svg style="left:43.70px;top:400.65px;background:#1f968b" width="163.20" height="16.79"><rect width="100%" height="100%" fill="#1f968b" filter="url(#f7)"/></svg>
<div class="lab" style="left:46.40px;top:403.05px;height:8.0px;line-height:10.0px">J1,644-4,559</div>
<svg style="left:43.70px;top:431.50px;background:#1f958b" width="163.20" height="100.13"><rect width="100%" height="100%" fill="#1f958b" filter="url(#f8)"/></svg>
<div class="lab" style="left:46.40px;top:436.30px;height:8.0px;line-height:10.0px">ProxCen</div>
<svg style="left:43.70px;top:536.92px;background:#1f958b" width="163.20" height="16.79"><rect width="100%" height="100%" fill="#1f958b" filter="url(#f9)"/></svg>
<div class="lab" style="left:46.40px;top:539.32px;height:8.0px;line-height:10.0px">1,421-490</div>
<svg style="left:43.70px;top:558.73px;background:#20928c" width="163.20" height="100.13"><rect width="100%" height="100%" fill="#20928c" filter="url(#f10)"/></svg>
<div class="lab" style="left:46.40px;top:563.53px;height:8.0px;line-height:10.0px">ProxCen</div>
<div style="left:43.0px;top:17px;width:0.8px;height:648px;background:#e2e2e2"></div>
<div class="tk" style="left:40.70px;top:16.65px"></div>
<div class="yl" style="right:418.90px;top:17.05px">12:39:50</div>
<div class="tk" style="left:40.70px;top:33.44px"></div>
<div class="yl" style="right:418.90px;top:33.26px">12:44:51</div>
<div class="tk" style="left:40.70px;top:37.29px"></div>
<div class="yl" style="right:418.90px;top:38.26px">12:46:00</div>
<div class="tk" style="left:40.70px;top:54.08px"></div>
<div class="yl" style="right:418.90px;top:54.48px">12:51:01</div>
<div class="tk" style="left:40.70px;top:92.79px"></div>
<div class="yl" style="right:418.90px;top:93.19px">13:02:35</div>
<div class="tk" style="left:40.70px;top:192.91px"></div>
<div class="yl" style="right:418.90px;top:193.31px">13:32:30</div>
<div class="tk" style="left:40.70px;top:201.23px"></div>
<div class="yl" style="right:418.90px;top:201.63px">13:34:59</div>
<div class="tk" style="left:40.70px;top:218.02px"></div>
<div class="yl" style="right:418.90px;top:218.42px">13:40:00</div>
<div class="tk" style="left:40.70px;top:244.01px"></div>
<div class="yl" style="right:418.90px;top:244.41px">13:47:46</div>
<div class="tk" style="left:40.70px;top:344.13px"></div>
<div class="yl" style="right:418.90px;top:344.53px">14:17:41</div>
<div class="tk" style="left:40.70px;top:356.24px"></div>
<div class="yl" style="right:418.90px;top:356.64px">14:21:18</div>
<div class="tk" style="left:40.70px;top:373.03px"></div>
<div class="yl" style="right:418.90px;top:373.43px">14:26:19</div>
<div class="tk" style="left:40.70px;top:400.25px"></div>
<div class="yl" style="right:418.90px;top:400.65px">14:34:27</div>
<div class="tk" style="left:40.70px;top:417.04px"></div>
<div class="yl" style="right:418.90px;top:417.44px">14:39:28</div>
<div class="tk" style="left:40.70px;top:431.10px"></div>
<div class="yl" style="right:418.90px;top:431.50px">14:43:40</div>
<div class="tk" style="left:40.70px;top:531.22px"></div>
<div class="yl" style="right:418.90px;top:531.62px">15:13:35</div>
<div class="tk" style="left:40.70px;top:536.52px"></div>
<div class="yl" style="right:418.90px;top:536.92px">15:15:10</div>
<div class="tk" style="left:40.70px;top:553.31px"></div>
<div class="yl" style="right:418.90px;top:553.71px">15:20:11</div>
<div class="tk" style="left:40.70px;top:558.33px"></div>
<div class="yl" style="right:418.90px;top:558.73px">15:21:41</div>
<div class="tk" style="left:40.70px;top:658.45px"></div>
<div class="yl" style="right:418.90px;top:658.85px">15:51:36</div>
<div style="left:246.90px;top:17.55px;width:161.10px;height:415.51px;background:#440154"></div>
<svg style="left:246.90px;top:17.55px;background:#1f958b" width="161.10" height="13.30"><rect width="100%" height="100%" fill="#1f958b" filter="url(#f11)"/></svg>
<div class="lab" style="left:249.60px;top:18.85px;height:7.2px;line-height:6.8px">1,421-490</div>
<svg style="left:246.90px;top:34.91px;background:#1f968b" width="161.10" height="79.30"><rect width="100%" height="100%" fill="#1f968b" filter="url(#f12)"/></svg>
<div class="lab" style="left:249.60px;top:38.21px;height:7.2px;line-height:6.8px">ProxCen</div>
<svg style="left:246.90px;top:118.55px;background:#1f958b" width="161.10" height="13.30"><rect width="100%" height="100%" fill="#1f958b" filter="url(#f13)"/></svg>
<div class="lab" style="left:249.60px;top:119.85px;height:7.2px;line-height:6.8px">1,421-490</div>
<svg style="left:246.90px;top:135.82px;background:#1f968b" width="161.10" height="79.30"><rect width="100%" height="100%" fill="#1f968b" filter="url(#f14)"/></svg>
<div class="lab" style="left:249.60px;top:139.12px;height:7.2px;line-height:6.8px">ProxCen</div>
<svg style="left:246.90px;top:219.36px;background:#1f978b" width="161.10" height="13.30"><rect width="100%" height="100%" fill="#1f978b" filter="url(#f15)"/></svg>
<div class="lab" style="left:249.60px;top:220.66px;height:7.2px;line-height:6.8px">1,421-490</div>
<svg style="left:246.90px;top:338.78px;background:#1f968b" width="161.10" height="79.30"><rect width="100%" height="100%" fill="#1f968b" filter="url(#f16)"/></svg>
<div class="lab" style="left:249.60px;top:342.08px;height:7.2px;line-height:6.8px">ProxCen</div>
<svg style="left:246.90px;top:421.97px;background:#1f978b" width="161.10" height="11.09"><rect width="100%" height="100%" fill="#1f978b" filter="url(#f17)"/></svg>
<div class="lab" style="left:249.60px;top:422.57px;height:7.2px;line-height:6.8px">1,421-490</div>
<div class="tk" style="left:243.90px;top:17.15px"></div>
<div class="yl" style="right:217.20px;top:17.55px">15:53:15</div>
<div class="tk" style="left:243.90px;top:30.45px"></div>
<div class="yl" style="right:217.20px;top:30.38px">15:58:16</div>
<div class="tk" style="left:243.90px;top:34.51px"></div>
<div class="yl" style="right:217.20px;top:35.38px">15:59:48</div>
<div class="tk" style="left:243.90px;top:113.82px"></div>
<div class="yl" style="right:217.20px;top:113.88px">16:29:43</div>
<div class="tk" style="left:243.90px;top:118.15px"></div>
<div class="yl" style="right:217.20px;top:118.88px">16:31:21</div>
<div class="tk" style="left:243.90px;top:131.44px"></div>
<div class="yl" style="right:217.20px;top:131.33px">16:36:22</div>
<div class="tk" style="left:243.90px;top:135.42px"></div>
<div class="yl" style="right:217.20px;top:136.33px">16:37:52</div>
<div class="tk" style="left:243.90px;top:214.72px"></div>
<div class="yl" style="right:217.20px;top:214.74px">17:07:47</div>
<div class="tk" style="left:243.90px;top:218.96px"></div>
<div class="yl" style="right:217.20px;top:219.74px">17:09:23</div>
<div class="tk" style="left:243.90px;top:232.26px"></div>
<div class="yl" style="right:217.20px;top:232.66px">17:14:24</div>
<div class="tk" style="left:243.90px;top:338.38px"></div>
<div class="yl" style="right:217.20px;top:338.78px">17:54:26</div>
<div class="tk" style="left:243.90px;top:417.69px"></div>
<div class="yl" style="right:217.20px;top:417.53px">18:24:21</div>
<div class="tk" style="left:243.90px;top:421.57px"></div>
<div class="yl" style="right:217.20px;top:422.53px">18:25:49</div>
<div class="tk" style="left:243.90px;top:432.66px"></div>
<div class="yl" style="right:217.20px;top:433.06px">18:30:00</div>
<svg style="left:0;top:0" width="458" height="685"><defs>
<linearGradient id="gA" x1="0" y1="0" x2="0" y2="1"><stop offset="0" stop-color="#6ccd5a" stop-opacity="0.15"/><stop offset="0.55" stop-color="#6ccd5a" stop-opacity="0.35"/><stop offset="0.85" stop-color="#6ccd5a" stop-opacity="0.7"/><stop offset="1" stop-color="#6ccd5a" stop-opacity="0.5"/></linearGradient>
<linearGradient id="gB" x1="0" y1="0" x2="0" y2="1"><stop offset="0" stop-color="#6ccd5a" stop-opacity="0.75"/><stop offset="0.5" stop-color="#6ccd5a" stop-opacity="0.6"/><stop offset="1" stop-color="#6ccd5a" stop-opacity="0.4"/></linearGradient>
<linearGradient id="gC" x1="0" y1="0" x2="0" y2="1"><stop offset="0" stop-color="#6ccd5a" stop-opacity="0.55"/><stop offset="0.5" stop-color="#6ccd5a" stop-opacity="0.55"/><stop offset="1" stop-color="#6ccd5a" stop-opacity="0.45"/></linearGradient>
<linearGradient id="gD" x1="0" y1="0" x2="0" y2="1"><stop offset="0" stop-color="#6ccd5a" stop-opacity="0.3"/><stop offset="0.35" stop-color="#6ccd5a" stop-opacity="0.7"/><stop offset="0.7" stop-color="#6ccd5a" stop-opacity="0.5"/><stop offset="1" stop-color="#6ccd5a" stop-opacity="0"/></linearGradient>
<linearGradient id="gE" x1="0" y1="0" x2="0" y2="1"><stop offset="0" stop-color="#6ccd5a" stop-opacity="0"/><stop offset="0.5" stop-color="#6ccd5a" stop-opacity="0.35"/><stop offset="1" stop-color="#6ccd5a" stop-opacity="0"/></linearGradient>
</defs>
<polygon points="122.1,152 122.9,152 123.2,193 122.4,193" fill="url(#gA)"/>
<polygon points="124.8,244.6 125.7,244.6 131.0,344.4 130.1,344.4" fill="url(#gB)"/>
<polygon points="135.4,431.6 136.3,431.6 141.2,531.5 140.3,531.5" fill="url(#gC)"/>
<polygon points="141.8,558.9 142.7,558.9 143.1,602 142.2,602" fill="url(#gD)"/>
<polygon points="361.9,383 362.7,383 362.9,401 362.1,401" fill="url(#gE)"/>
</svg>
<div class="xt" style="left:43.30px;top:664.50px"></div>
<div class="xl" style="left:43.70px;top:668.70px;line-height:6px">−843</div>
<div class="xt" style="left:84.10px;top:664.50px"></div>
<div class="xl" style="left:84.50px;top:668.70px;line-height:6px">−421</div>
<div class="xt" style="left:124.90px;top:664.50px"></div>
<div class="xl" style="left:125.30px;top:668.70px;line-height:6px">0</div>
<div class="xt" style="left:165.70px;top:664.50px"></div>
<div class="xl" style="left:166.10px;top:668.70px;line-height:6px">421</div>
<div class="xt" style="left:206.50px;top:664.50px"></div>
<div class="xl" style="left:206.90px;top:668.70px;line-height:6px">843</div>
<div class="xt" style="left:246.50px;top:433.06px"></div>
<div class="xl" style="left:246.90px;top:437.26px;line-height:6px">−843</div>
<div class="xt" style="left:286.78px;top:433.06px"></div>
<div class="xl" style="left:287.18px;top:437.26px;line-height:6px">−421</div>
<div class="xt" style="left:327.05px;top:433.06px"></div>
<div class="xl" style="left:327.45px;top:437.26px;line-height:6px">0</div>
<div class="xt" style="left:367.33px;top:433.06px"></div>
<div class="xl" style="left:367.73px;top:437.26px;line-height:6px">421</div>
<div class="xt" style="left:407.60px;top:433.06px"></div>
<div class="xl" style="left:408.00px;top:437.26px;line-height:6px">843</div>
<div class="xl" style="left:125.3px;top:678.6px;font-size:5.45px">Relative frequency (Hz) from 982.002472 MHz</div>
<div class="xl" style="left:327.3px;top:448.1px;font-size:5.45px">Relative frequency (Hz) from 982.002472 MHz</div>
<div style="left:2.0px;top:371px;font-size:5.35px;white-space:nowrap;transform:translate(-50%,-50%) rotate(-90deg);line-height:6px;color:#111">Time (UTC)</div>
<div style="left:424.3px;top:17.4px;width:11.6px;height:662.2px;background:linear-gradient(to top,#440154,#482475,#414487,#355f8d,#2a788e,#21918c,#22a884,#44bf70,#7ad151,#bddf26,#fde725);box-shadow:0 0 0 0.5px rgba(160,160,160,0.8)"></div>
<div class="tk" style="left:435.9px;top:679.10px;background:#9a9a9a"></div>
<div style="left:441.8px;top:679.10px;font-size:5.35px;line-height:0">0</div>
<div class="tk" style="left:435.9px;top:546.70px;background:#9a9a9a"></div>
<div style="left:441.8px;top:546.70px;font-size:5.35px;line-height:0">0.2</div>
<div class="tk" style="left:435.9px;top:414.30px;background:#9a9a9a"></div>
<div style="left:441.8px;top:414.30px;font-size:5.35px;line-height:0">0.4</div>
<div class="tk" style="left:435.9px;top:281.90px;background:#9a9a9a"></div>
<div style="left:441.8px;top:281.90px;font-size:5.35px;line-height:0">0.6</div>
<div class="tk" style="left:435.9px;top:149.50px;background:#9a9a9a"></div>
<div style="left:441.8px;top:149.50px;font-size:5.35px;line-height:0">0.8</div>
<div class="tk" style="left:435.9px;top:17.10px;background:#9a9a9a"></div>
<div style="left:441.8px;top:17.10px;font-size:5.35px;line-height:0">1.0</div>
<div style="left:456px;top:349.6px;font-size:5.4px;white-space:nowrap;transform:translate(-50%,-50%) rotate(90deg);line-height:6px;color:#111">Normalized power</div>
</body></html>
